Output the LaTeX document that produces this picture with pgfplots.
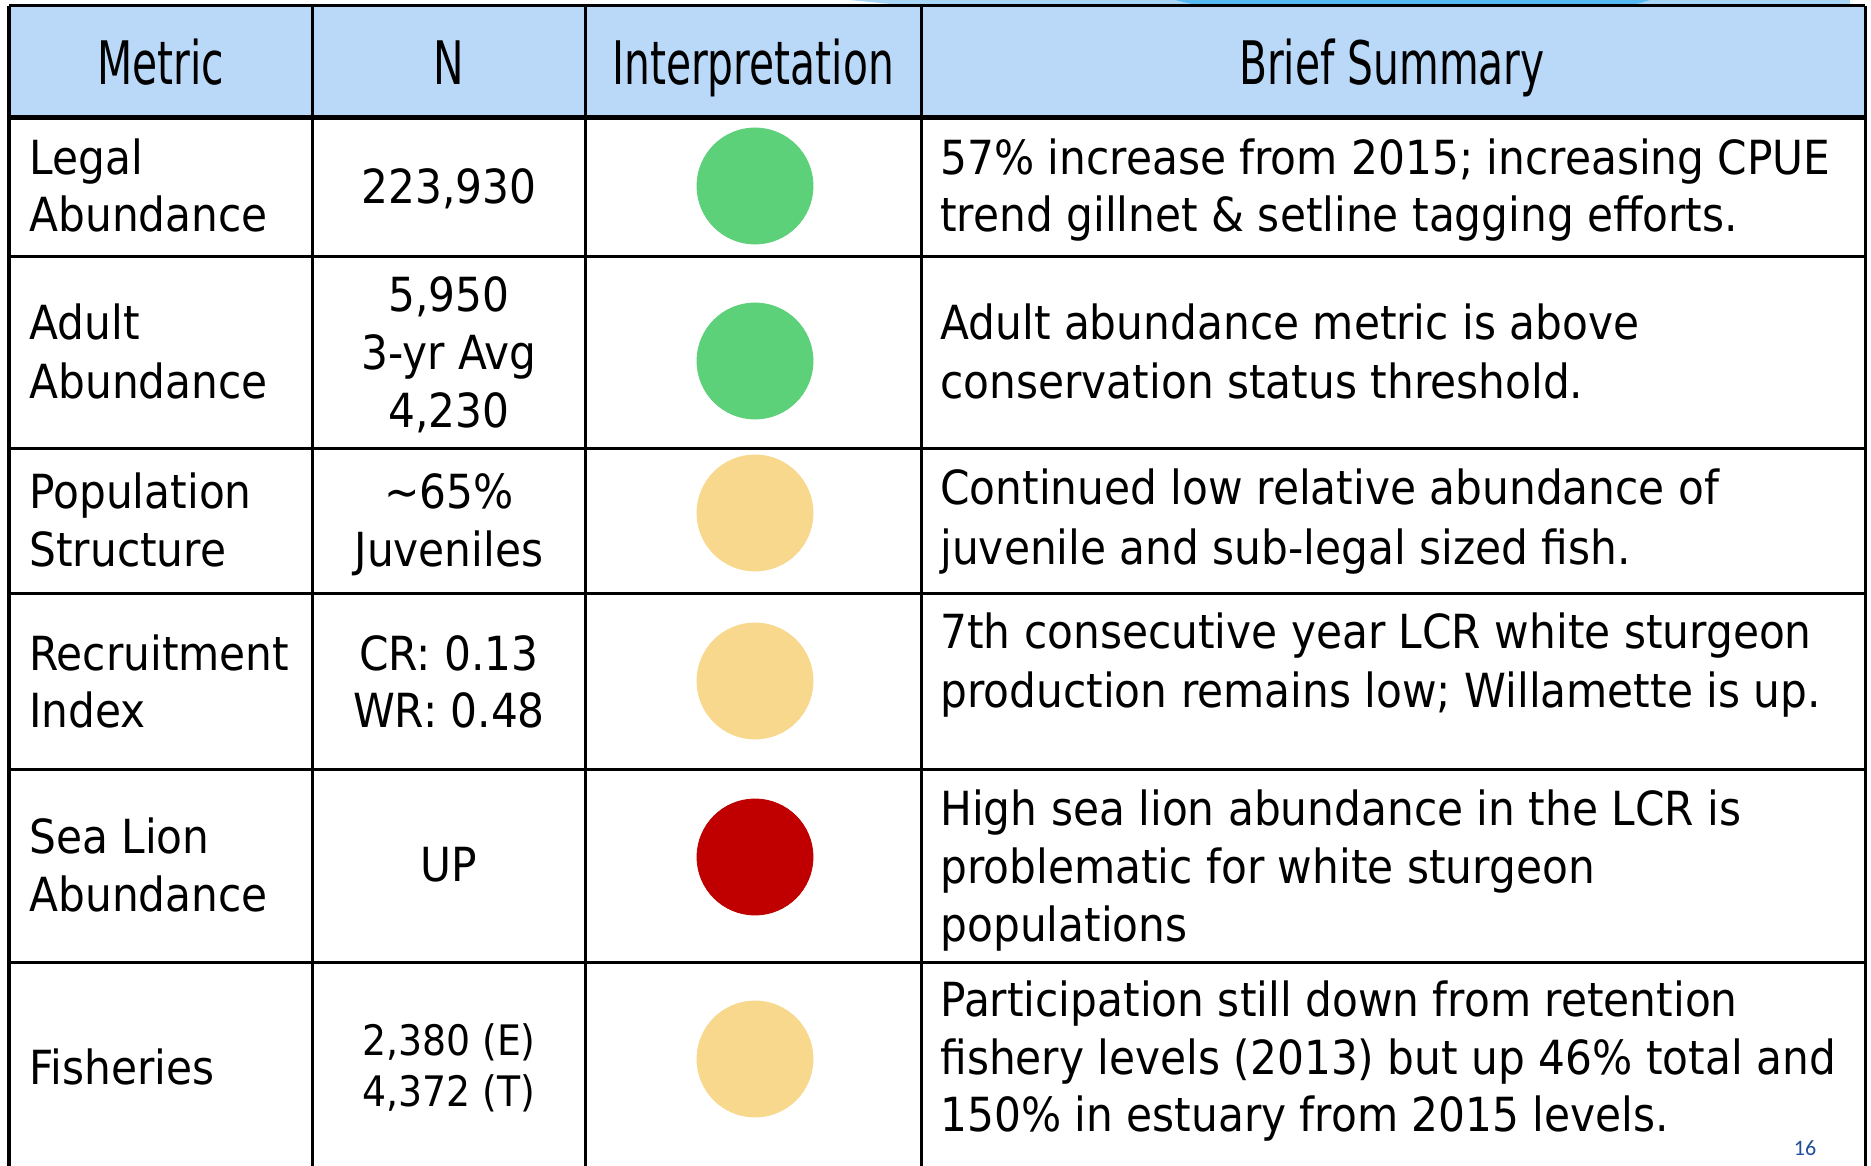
\documentclass[border=0pt]{standalone}
\usepackage{pgfplots}
\pgfplotsset{compat=1.18}
\usepackage{fontspec}
\setmainfont{DejaVu Sans}
\newfontfamily\bodyfont{DejaVu Sans}[FakeStretch=0.9]
\newfontfamily\hdrfont{DejaVu Sans}[FakeStretch=0.68]
\newfontfamily\pgfont{Carlito}
\definecolor{hdr}{HTML}{BAD8F8}
\definecolor{cgreen}{HTML}{5DD07A}
\definecolor{camber}{HTML}{F8D88C}
\definecolor{cred}{HTML}{C00000}
\definecolor{strip}{HTML}{A8D6F4}
\definecolor{stripb}{HTML}{56BBF2}
\definecolor{pgblue}{HTML}{1F4E9A}
\newcommand{\B}{\bodyfont\fontsize{23.5}{28}\selectfont}
\newcommand{\Bs}{\bodyfont\fontsize{21}{25}\selectfont}
\newcommand{\HH}{\hdrfont\fontsize{30}{36}\selectfont}
\begin{document}
\begin{tikzpicture}
\begin{axis}[x=0.5pt, y=0.5pt, y dir=reverse,
  xmin=0, xmax=1871, ymin=0, ymax=1166,
  hide axis, clip=true]
% background
\addplot[fill=white, draw=none] coordinates {(0,0) (1871,0) (1871,1166) (0,1166) (0,0)};
% decorative strip at top
\addplot[fill=strip, draw=none] coordinates {(850,0) (1850,0) (1850,5) (900,5) (850,0)};
\addplot[fill=stripb, draw=none] coordinates {(1175,0) (1650,0) (1630,6) (1200,6) (1175,0)};
% header fill
\addplot[fill=hdr, draw=none] coordinates {(9,6) (1865,6) (1865,118) (9,118) (9,6)};
% horizontal lines
\addplot[black, line width=1.5pt] coordinates {(9,6) (1865,6)};
\addplot[black, line width=2.5pt] coordinates {(9,118) (1865,118)};
\addplot[black, line width=1.5pt] coordinates {(9,257) (1865,257)};
\addplot[black, line width=1.5pt] coordinates {(9,449) (1865,449)};
\addplot[black, line width=1.5pt] coordinates {(9,593) (1865,593)};
\addplot[black, line width=1.5pt] coordinates {(9,769) (1865,769)};
\addplot[black, line width=1.5pt] coordinates {(9,962) (1865,962)};
% vertical lines
\addplot[black, line width=1.5pt] coordinates {(9,6) (9,1170)};
\addplot[black, line width=1.5pt] coordinates {(312,6) (312,1170)};
\addplot[black, line width=1.5pt] coordinates {(585,6) (585,1170)};
\addplot[black, line width=1.5pt] coordinates {(921,6) (921,1170)};
\addplot[black, line width=1.5pt] coordinates {(1865,6) (1865,1170)};
% status circles
\addplot[only marks, mark=*, mark size=29pt, color=cgreen, mark options={draw=cgreen, fill=cgreen}] coordinates {(755,186) (755,361)};
\addplot[only marks, mark=*, mark size=29pt, color=camber, mark options={draw=camber, fill=camber}] coordinates {(755,513) (755,681) (755,1059)};
\addplot[only marks, mark=*, mark size=29pt, color=cred, mark options={draw=cred, fill=cred}] coordinates {(755,857)};
% header text
\node[anchor=base, font=\HH] at (axis cs:161,85) {Metric};
\node[anchor=base, font=\HH] at (axis cs:449,85) {N};
\node[anchor=base, font=\HH] at (axis cs:753,85) {Interpretation};
\node[anchor=base, font=\HH] at (axis cs:1392,85) {Brief Summary};
% metric column
\node[anchor=base west, font=\B, inner sep=0] at (axis cs:29,175) {Legal};
\node[anchor=base west, font=\B, inner sep=0] at (axis cs:29,232) {Abundance};
\node[anchor=base west, font=\B, inner sep=0] at (axis cs:29,340) {Adult};
\node[anchor=base west, font=\B, inner sep=0] at (axis cs:29,399) {Abundance};
\node[anchor=base west, font=\B, inner sep=0] at (axis cs:29,509) {Population};
\node[anchor=base west, font=\B, inner sep=0] at (axis cs:29,567) {Structure};
\node[anchor=base west, font=\B, inner sep=0] at (axis cs:29,670) {Recruitment};
\node[anchor=base west, font=\B, inner sep=0] at (axis cs:29,727) {Index};
\node[anchor=base west, font=\B, inner sep=0] at (axis cs:29,853) {Sea Lion};
\node[anchor=base west, font=\B, inner sep=0] at (axis cs:29,911) {Abundance};
\node[anchor=base west, font=\B, inner sep=0] at (axis cs:29,1084) {Fisheries};
% N column
\node[anchor=base, font=\B, inner sep=0] at (axis cs:449,204) {223,930};
\node[anchor=base, font=\B, inner sep=0] at (axis cs:449,312) {5,950};
\node[anchor=base, font=\B, inner sep=0] at (axis cs:449,370) {3-yr Avg};
\node[anchor=base, font=\B, inner sep=0] at (axis cs:449,428) {4,230};
\node[anchor=base, font=\B, inner sep=0] at (axis cs:449,509) {\textasciitilde65\%};
\node[anchor=base, font=\B, inner sep=0] at (axis cs:449,567) {Juveniles};
\node[anchor=base, font=\B, inner sep=0] at (axis cs:449,670) {CR: 0.13};
\node[anchor=base, font=\B, inner sep=0] at (axis cs:449,727) {WR: 0.48};
\node[anchor=base, font=\B, inner sep=0] at (axis cs:449,881) {UP};
\node[anchor=base, font=\Bs, inner sep=0] at (axis cs:449,1055) {2,380 (E)};
\node[anchor=base, font=\Bs, inner sep=0] at (axis cs:449,1106) {4,372 (T)};
% summary column
\node[anchor=base west, font=\B, inner sep=0] at (axis cs:940,175) {57\% increase from 2015; increasing CPUE};
\node[anchor=base west, font=\B, inner sep=0] at (axis cs:940,232) {trend gillnet \& setline tagging efforts.};
\node[anchor=base west, font=\B, inner sep=0] at (axis cs:940,340) {Adult abundance metric is above};
\node[anchor=base west, font=\B, inner sep=0] at (axis cs:940,399) {conservation status threshold.};
\node[anchor=base west, font=\B, inner sep=0] at (axis cs:940,505) {Continued low relative abundance of};
\node[anchor=base west, font=\B, inner sep=0] at (axis cs:940,564) {juvenile and sub-legal sized fish.};
\node[anchor=base west, font=\B, inner sep=0] at (axis cs:940,648) {7th consecutive year LCR white sturgeon};
\node[anchor=base west, font=\B, inner sep=0] at (axis cs:940,707) {production remains low; Willamette is up.};
\node[anchor=base west, font=\B, inner sep=0] at (axis cs:940,825) {High sea lion abundance in the LCR is};
\node[anchor=base west, font=\B, inner sep=0] at (axis cs:940,883) {problematic for white sturgeon};
\node[anchor=base west, font=\B, inner sep=0] at (axis cs:940,941) {populations};
\node[anchor=base west, font=\B, inner sep=0] at (axis cs:940,1016) {Participation still down from retention};
\node[anchor=base west, font=\B, inner sep=0] at (axis cs:940,1074) {fishery levels (2013) but up 46\% total and};
\node[anchor=base west, font=\B, inner sep=0] at (axis cs:940,1131) {150\% in estuary from 2015 levels.};
% page number
\node[anchor=base, font=\pgfont\fontsize{11}{13}\selectfont, text=pgblue, inner sep=0] at (axis cs:1805,1155) {16};
\end{axis}
\end{tikzpicture}
\end{document}
